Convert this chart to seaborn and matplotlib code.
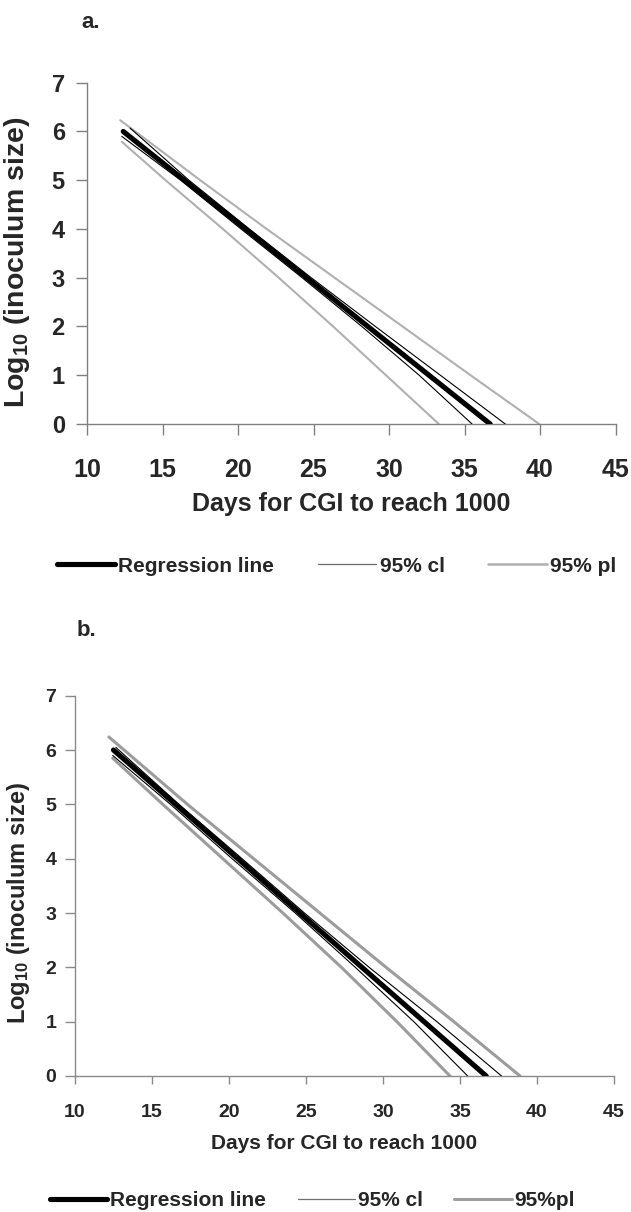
import matplotlib
matplotlib.use("Agg")
import matplotlib.pyplot as plt
import seaborn as sns
import pandas as pd
from matplotlib.lines import Line2D

sns.set_style("white")
plt.rcParams['font.family'] = ['Liberation Sans', 'DejaVu Sans']
plt.rcParams['mathtext.fontset'] = 'custom'
plt.rcParams['mathtext.rm'] = 'Liberation Sans:bold'
plt.rcParams['mathtext.bf'] = 'Liberation Sans:bold'
plt.rcParams['mathtext.default'] = 'bf'

# ---- Panel a data (days, log10 inoculum) ----
a_reg_x = [12.4, 36.7]
a_reg_y = [6.0, 0.0]
a_ciu_x = [12.85, 16.75, 20.75, 24.85, 29.1, 33.4, 37.7]
a_ciu_y = [6.07, 5, 4, 3, 2, 1, 0]
a_cil_x = [12.3, 16.2, 20.2, 24.25, 28.2, 32.0, 35.5]
a_cil_y = [5.9, 5, 4, 3, 2, 1, 0]
a_piu_x = [12.2, 13.2, 17.5, 21.9, 26.4, 30.9, 35.4, 39.95]
a_piu_y = [6.23, 6, 5, 4, 3, 2, 1, 0]
a_pil_x = [12.3, 15.2, 19.0, 22.7, 26.3, 29.8, 33.3]
a_pil_y = [5.79, 5, 4, 3, 2, 1, 0]

# ---- Panel b data ----
b_reg_x = [12.5, 36.7]
b_reg_y = [6.0, 0.0]
b_ciu_x = [12.65, 16.75, 20.85, 24.9, 29.1, 33.5, 37.7]
b_ciu_y = [6.05, 5, 4, 3, 2, 1, 0]
b_cil_x = [12.45, 16.2, 20.2, 24.3, 28.2, 32.0, 35.5]
b_cil_y = [5.9, 5, 4, 3, 2, 1, 0]
b_piu_x = [12.2, 17.3, 21.6, 25.9, 30.2, 34.6, 38.9]
b_piu_y = [6.24, 5, 4, 3, 2, 1, 0]
b_pil_x = [12.45, 15.7, 19.6, 23.5, 27.3, 30.9, 34.35]
b_pil_y = [5.85, 5, 4, 3, 2, 1, 0]

x_ticks = [10, 15, 20, 25, 30, 35, 40, 45]
y_ticks = [0, 1, 2, 3, 4, 5, 6, 7]
xlabel = "Days for CGI to reach 1000"
ylabel = r"Log$_{10}$ (inoculum size)"
legend_a = ["Regression line", "95% cl", "95% pl"]
legend_b = ["Regression line", "95% cl", "95%pl"]

W, H = 631, 1212
fig = plt.figure(figsize=(W/100, H/100), dpi=100)
ax_a = fig.add_axes([87/W, 1-424/H, 528.5/W, 341.3/H])
ax_b = fig.add_axes([75/W, 1-1076/H, 539/W, 380.3/H])

PI_A, PI_B = '#b0b0b0', '#9c9c9c'

def draw(ax, reg, ciu, cil, piu, pil, pi_col, pi_lw, ci_lw):
    for (xs, ys), col, lw, z in [
        (piu, pi_col, pi_lw, 2), (pil, pi_col, pi_lw, 2),
        (ciu, 'black', ci_lw, 3), (cil, 'black', ci_lw, 3),
        (reg, 'black', 3.7, 4)]:
        df = pd.DataFrame({'x': xs, 'y': ys})
        sns.lineplot(data=df, x='x', y='y', ax=ax, color=col, lw=lw,
                     sort=False, estimator=None, zorder=z)

draw(ax_a, (a_reg_x, a_reg_y), (a_ciu_x, a_ciu_y), (a_cil_x, a_cil_y),
     (a_piu_x, a_piu_y), (a_pil_x, a_pil_y), PI_A, 1.5, 0.8)
draw(ax_b, (b_reg_x, b_reg_y), (b_ciu_x, b_ciu_y), (b_cil_x, b_cil_y),
     (b_piu_x, b_piu_y), (b_pil_x, b_pil_y), PI_B, 2.2, 0.8)

def style(ax, xfs, yfs, lfs, yfs_lab, xpad, ypad, xlen, ylen, xlc, ylc, spc):
    ax.set_xlim(10, 45)
    ax.set_ylim(0, 7)
    ax.set_xticks(x_ticks)
    ax.set_yticks(y_ticks)
    for s in ['top', 'right']:
        ax.spines[s].set_visible(False)
    for s in ['left', 'bottom']:
        ax.spines[s].set_color(spc)
        ax.spines[s].set_linewidth(1.0)
    ax.tick_params(axis='x', direction='out', length=xlen, width=1.0,
                   color=spc, pad=xpad, labelsize=xfs, bottom=True)
    ax.tick_params(axis='y', direction='out', length=ylen, width=1.0,
                   color=spc, pad=ypad, labelsize=yfs, left=True)
    for lab in ax.get_xticklabels() + ax.get_yticklabels():
        lab.set_fontweight('bold')
    ax.set_xlabel(xlabel, fontsize=lfs, fontweight='bold')
    ax.set_ylabel(ylabel, fontsize=yfs_lab, fontweight='bold')
    ax.xaxis.set_label_coords(0.5, xlc)
    ax.yaxis.set_label_coords(ylc[0], ylc[1])
    ax.patch.set_alpha(0)

style(ax_a, 18, 17, 18, 20.5, 16.5, 8, 8, 8, -0.199, (-0.104, 0.473), '#808080')
style(ax_b, 14, 14, 15, 17, 14, 6.5, 6, 7, -0.1525, (-0.080, 0.454), '#8a8a8a')

fig.text(81/W, 1-22/H, "a.", fontsize=16, fontweight='bold', va='center')
fig.text(77/W, 1-630/H, "b.", fontsize=16, fontweight='bold', va='center')

def legend(labels, fs, y, x0, hl, cs, ci_col, pi_col, pi_lw):
    h = [Line2D([], [], color='black', lw=3.7),
         Line2D([], [], color=ci_col, lw=0.9),
         Line2D([], [], color=pi_col, lw=pi_lw)]
    fig.legend(h, labels, loc='center left',
               bbox_to_anchor=(x0, y), ncol=3, frameon=False,
               prop={'size': fs, 'weight': 'bold'}, handlelength=hl,
               handletextpad=0.15, columnspacing=cs, borderpad=0,
               borderaxespad=0)

legend(legend_a, 15, 1-566/H, 57/W, 2.8, 2.1, '#6a6a6a', PI_A, 1.8)
legend(legend_b, 15, 1-1201/H, 50/W, 2.75, 1.5, '#707070', PI_B, 2.2)

fig.savefig("out.png", dpi=100)
